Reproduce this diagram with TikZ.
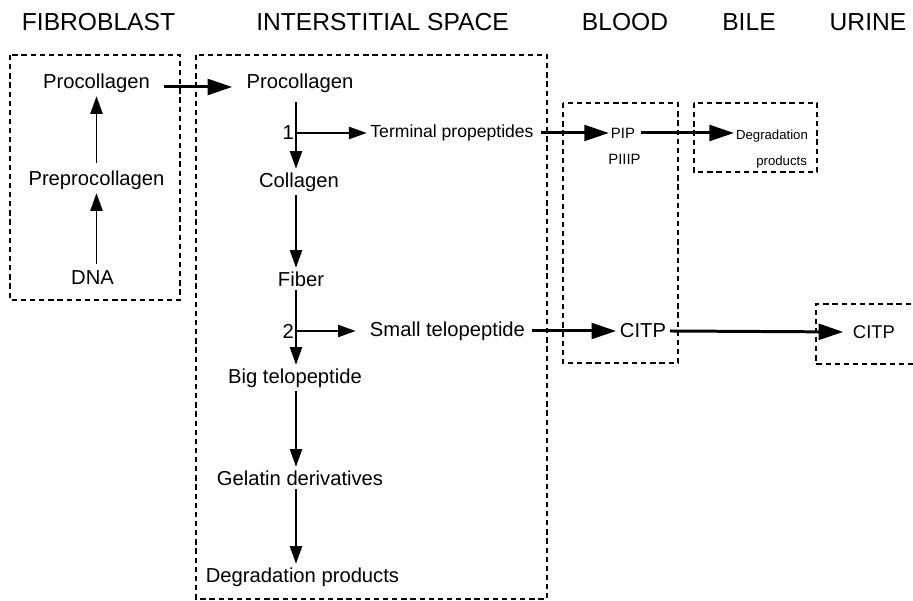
\documentclass[tikz,border=0pt]{standalone}
\usepackage{fontspec}
\setmainfont{Liberation Sans}
\usetikzlibrary{arrows.meta}
\tikzset{
  region/.style={line width=.65pt,dash pattern=on 3pt off 2.2pt},
  flow/.style={line width=.75pt,-{Triangle[length=10pt,width=7pt]}},
  export/.style={line width=1.7pt,-{Triangle[length=14pt,width=9pt]}},
  head/.style={font=\fontsize{14}{16}\selectfont},
  item/.style={font=\fontsize{11.5}{13}\selectfont,inner sep=2pt},
  minor/.style={font=\fontsize{10}{12}\selectfont,inner sep=2pt},
  tiny/.style={font=\fontsize{8.5}{10}\selectfont,inner sep=1pt},
  tinier/.style={font=\fontsize{7.5}{9}\selectfont,inner sep=1pt}
}
\begin{document}
\begin{tikzpicture}
        \useasboundingbox (0,0) rectangle (18.26,12.02);
        % compartments
        \node[head] (hfib) at (1.97,11.58) {FIBROBLAST};
        \node[head] (hint) at (7.65,11.58) {INTERSTITIAL SPACE};
        \node[head] (hblood) at (12.5,11.58) {BLOOD};
        \node[head] (hbile) at (14.98,11.58) {BILE};
        \node[head] (hurine) at (17.36,11.58) {URINE};
        \draw[region] (0.2,10.92) rectangle (3.6,6.02);
        \draw[region] (3.92,10.92) rectangle (10.94,0.04);
        \draw[region] (11.26,9.96) rectangle (13.56,4.76);
        \draw[region] (13.88,9.96) rectangle (16.34,8.58);
        \draw[region] (18.4,5.94) -- (16.32,5.94) -- (16.32,4.74) -- (18.4,4.74);
        % fibroblast
        \node[item] (fproc) at (1.93,10.36) {Procollagen};
        \node[item] (prep) at (1.93,8.42) {Preprocollagen};
        \node[item] (dna) at (1.85,6.46) {DNA};
        \draw[flow,shorten <=2pt] (dna.north -| prep.south) -- (prep.south);
        \draw[flow,shorten <=2pt] (prep.north) -- (fproc.south);
        % interstitial space
        \node[item] (iproc) at (6.0,10.36) {Procollagen};
        \node[item] (coll) at (5.98,8.38) {Collagen};
        \node[item] (fiber) at (6.02,6.44) {Fiber};
        \node[item] (big) at (5.9,4.46) {Big telopeptide};
        \node[item] (gel) at (6.0,2.46) {Gelatin derivatives};
        \node[item] (deg) at (6.05,0.48) {Degradation products};
        \node[minor] (termprop) at (9.04,9.36) {Terminal propeptides};
        \node[item] (small) at (8.95,5.4) {Small telopeptide};
        \coordinate (b1) at (5.92,9.36);
        \coordinate (b2) at (5.92,5.4);
        \draw[export,shorten <=6pt,shorten >=6pt] (fproc.east |- 0,10.28) -- (iproc.west |- 0,10.28);
        \draw[flow,shorten <=3pt] (iproc.south -| b1) -- (coll.north -| b1);
        \draw[flow] (b1) -- (termprop.west);
        \node[item,left,inner sep=1pt] (n1) at (b1) {1};
        \draw[flow] (coll.south -| b1) -- (fiber.north -| b1);
        \draw[flow] (fiber.south -| b2) -- (big.north -| b2);
        \draw[flow,shorten >=6pt] (b2) -- (small.west);
        \node[item,left,inner sep=1pt] (n2) at (b2) {2};
        \draw[flow] (big.south -| b2) -- (gel.north -| b2);
        \draw[flow] (gel.south -| b2) -- (deg.north -| b2);
        % blood, bile, urine
        \node[tiny] (pip) at (12.46,9.36) {PIP};
        \node[tiny] (piiip) at (12.49,8.84) {PIIIP};
        \node[tinier,anchor=east] (bdeg) at (16.2,9.3) {Degradation};
        \node[tinier,anchor=east] (bprod) at (16.18,8.78) {products};
        \node[item] (citp) at (12.86,5.4) {CITP};
        \node[font=\fontsize{10.5}{12}\selectfont] (ucitp) at (17.48,5.38) {CITP};
        \draw[export,shorten <=2pt] (termprop.east) -- (pip.west);
        \draw[export,shorten <=2pt] (pip.east) -- (pip.east -| bdeg.west);
        \draw[export,shorten <=2pt] (small.east) -- (citp.west);
        \draw[export,shorten >=2pt] (citp.east) -- (ucitp.west);
\end{tikzpicture}
\end{document}
